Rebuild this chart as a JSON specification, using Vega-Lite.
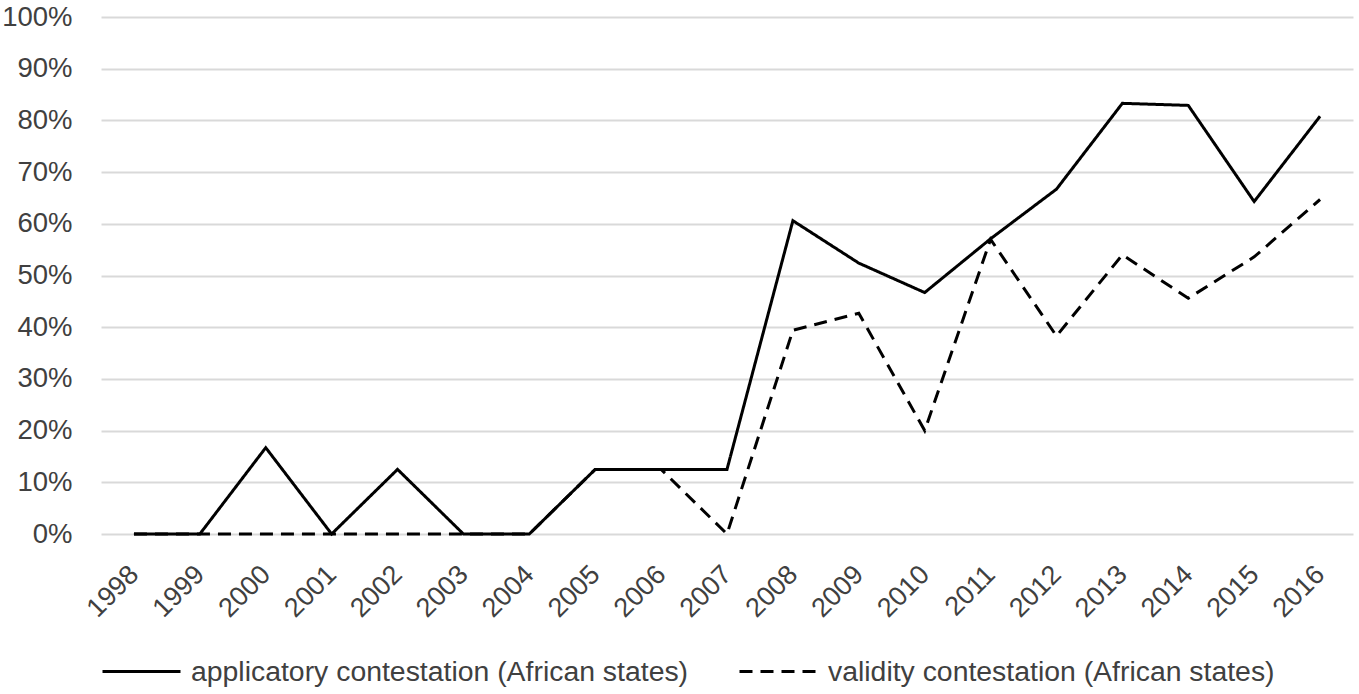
{
  "$schema": "https://vega.github.io/schema/vega-lite/v6.json",
  "width": 1252,
  "height": 517,
  "autosize": {"type": "none"},
  "padding": {"left": 101, "top": 17, "right": 6, "bottom": 160},
  "background": "white",
  "config": {
    "view": {"stroke": null},
    "font": "Liberation Sans",
    "axis": {"labelFont": "Liberation Sans", "labelColor": "#404040"},
    "legend": {"labelFont": "Liberation Sans", "labelColor": "#404040"}
  },
  "data": {
    "values": [
      {"year": "1998", "series": "applicatory contestation (African states)", "value": 0},
      {"year": "1999", "series": "applicatory contestation (African states)", "value": 0},
      {"year": "2000", "series": "applicatory contestation (African states)", "value": 0.167},
      {"year": "2001", "series": "applicatory contestation (African states)", "value": 0},
      {"year": "2002", "series": "applicatory contestation (African states)", "value": 0.125},
      {"year": "2003", "series": "applicatory contestation (African states)", "value": 0},
      {"year": "2004", "series": "applicatory contestation (African states)", "value": 0},
      {"year": "2005", "series": "applicatory contestation (African states)", "value": 0.125},
      {"year": "2006", "series": "applicatory contestation (African states)", "value": 0.125},
      {"year": "2007", "series": "applicatory contestation (African states)", "value": 0.125},
      {"year": "2008", "series": "applicatory contestation (African states)", "value": 0.606},
      {"year": "2009", "series": "applicatory contestation (African states)", "value": 0.524},
      {"year": "2010", "series": "applicatory contestation (African states)", "value": 0.467},
      {"year": "2011", "series": "applicatory contestation (African states)", "value": 0.571},
      {"year": "2012", "series": "applicatory contestation (African states)", "value": 0.667},
      {"year": "2013", "series": "applicatory contestation (African states)", "value": 0.833},
      {"year": "2014", "series": "applicatory contestation (African states)", "value": 0.829},
      {"year": "2015", "series": "applicatory contestation (African states)", "value": 0.643},
      {"year": "2016", "series": "applicatory contestation (African states)", "value": 0.808},
      {"year": "1998", "series": "validity contestation (African states)", "value": 0},
      {"year": "1999", "series": "validity contestation (African states)", "value": 0},
      {"year": "2000", "series": "validity contestation (African states)", "value": 0},
      {"year": "2001", "series": "validity contestation (African states)", "value": 0},
      {"year": "2002", "series": "validity contestation (African states)", "value": 0},
      {"year": "2003", "series": "validity contestation (African states)", "value": 0},
      {"year": "2004", "series": "validity contestation (African states)", "value": 0},
      {"year": "2005", "series": "validity contestation (African states)", "value": 0.125},
      {"year": "2006", "series": "validity contestation (African states)", "value": 0.125},
      {"year": "2007", "series": "validity contestation (African states)", "value": 0},
      {"year": "2008", "series": "validity contestation (African states)", "value": 0.394},
      {"year": "2009", "series": "validity contestation (African states)", "value": 0.427},
      {"year": "2010", "series": "validity contestation (African states)", "value": 0.2},
      {"year": "2011", "series": "validity contestation (African states)", "value": 0.57},
      {"year": "2012", "series": "validity contestation (African states)", "value": 0.383},
      {"year": "2013", "series": "validity contestation (African states)", "value": 0.54},
      {"year": "2014", "series": "validity contestation (African states)", "value": 0.456},
      {"year": "2015", "series": "validity contestation (African states)", "value": 0.536},
      {"year": "2016", "series": "validity contestation (African states)", "value": 0.647}
    ]
  },
  "mark": {"type": "line", "color": "black", "strokeWidth": 3, "strokeJoin": "miter"},
  "encoding": {
    "x": {
      "field": "year",
      "type": "ordinal",
      "scale": {"type": "point", "padding": 0.5},
      "axis": {
        "title": null,
        "domain": false,
        "ticks": false,
        "grid": false,
        "labelAngle": -45,
        "labelAlign": "right",
        "labelBaseline": "middle",
        "labelFontSize": 27,
        "labelPadding": 36
      }
    },
    "y": {
      "field": "value",
      "type": "quantitative",
      "scale": {"domain": [0, 1], "nice": false},
      "axis": {
        "title": null,
        "format": ".0%",
        "values": [0, 0.1, 0.2, 0.3, 0.4, 0.5, 0.6, 0.7, 0.8, 0.9, 1],
        "domain": false,
        "ticks": false,
        "grid": true,
        "gridColor": "#d9d9d9",
        "gridWidth": 2,
        "labelFontSize": 27.5,
        "labelPadding": 29
      }
    },
    "strokeDash": {
      "field": "series",
      "type": "nominal",
      "scale": {
        "domain": ["applicatory contestation (African states)", "validity contestation (African states)"],
        "range": [[1, 0], [13, 8]]
      },
      "legend": {
        "title": null,
        "orient": "none",
        "direction": "horizontal",
        "legendX": 0,
        "legendY": 614,
        "symbolType": "stroke",
        "symbolSize": 6084,
        "symbolStrokeWidth": 3,
        "symbolStrokeColor": "black",
        "labelFontSize": 28.4,
        "labelOffset": 9,
        "columnPadding": 44,
        "labelLimit": 0
      }
    }
  }
}
